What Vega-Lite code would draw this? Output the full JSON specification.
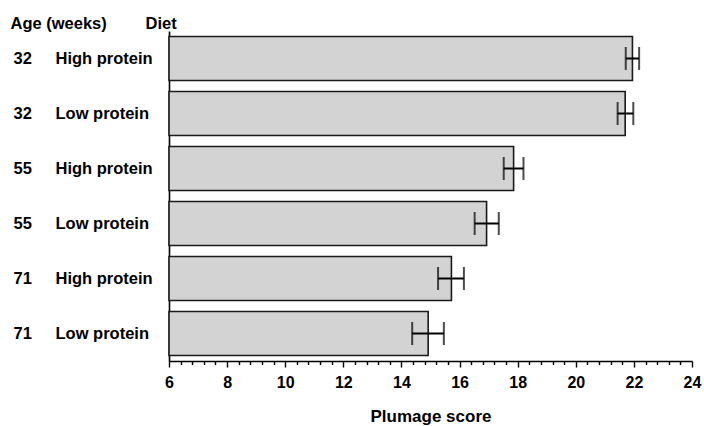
{
  "$schema": "https://vega.github.io/schema/vega-lite/v6.json",
  "width": 523,
  "height": 330,
  "autosize": "none",
  "padding": {"left": 169, "top": 31, "right": 12, "bottom": 65},
  "background": "white",
  "config": {
    "view": {"stroke": null},
    "font": "Liberation Sans",
    "axis": {
      "labelFont": "Liberation Sans",
      "labelFontWeight": "bold",
      "labelColor": "black",
      "titleFont": "Liberation Sans",
      "titleFontWeight": "bold",
      "titleColor": "black",
      "domainColor": "black",
      "tickColor": "black",
      "grid": false
    }
  },
  "data": {
    "values": [
      {"key": "32|High protein", "age": 32, "diet": "High protein", "score": 21.95, "lo": 21.72, "hi": 22.18},
      {"key": "32|Low protein", "age": 32, "diet": "Low protein", "score": 21.7, "lo": 21.44, "hi": 21.98},
      {"key": "55|High protein", "age": 55, "diet": "High protein", "score": 17.86, "lo": 17.52, "hi": 18.2},
      {"key": "55|Low protein", "age": 55, "diet": "Low protein", "score": 16.93, "lo": 16.52, "hi": 17.35},
      {"key": "71|High protein", "age": 71, "diet": "High protein", "score": 15.72, "lo": 15.26, "hi": 16.15},
      {"key": "71|Low protein", "age": 71, "diet": "Low protein", "score": 14.92, "lo": 14.37, "hi": 15.46}
    ]
  },
  "resolve": {"axis": {"y": "independent", "x": "independent"}},
  "layer": [
    {
      "mark": {"type": "bar", "fill": "#d3d3d3", "stroke": "#1a1a1a", "strokeWidth": 1.6},
      "encoding": {
        "y": {
          "field": "key",
          "type": "nominal",
          "sort": null,
          "scale": {"paddingInner": 0.2, "paddingOuter": 0.1},
          "axis": {
            "orient": "left",
            "title": "Diet",
            "titleAngle": 0,
            "titleAlign": "left",
            "titleBaseline": "alphabetic",
            "titleX": -24,
            "titleY": -3,
            "titleFontSize": 16.5,
            "ticks": false,
            "domain": true,
            "domainWidth": 1.6,
            "labelAlign": "left",
            "labelBaseline": "middle",
            "labelPadding": 114,
            "labelFontSize": 16.5,
            "labelExpr": "split(datum.value, '|')[1]"
          }
        },
        "x": {
          "field": "score",
          "type": "quantitative",
          "scale": {"domain": [6, 24], "zero": false, "nice": false},
          "axis": {
            "orient": "bottom",
            "title": "Plumage score",
            "titleFontSize": 17,
            "titlePadding": 18,
            "values": [6, 6.4, 6.8, 7.2, 7.6, 8, 8.4, 8.8, 9.2, 9.6, 10, 10.4, 10.8, 11.2, 11.6, 12, 12.4, 12.8, 13.2, 13.6, 14, 14.4, 14.8, 15.2, 15.6, 16, 16.4, 16.8, 17.2, 17.6, 18, 18.4, 18.8, 19.2, 19.6, 20, 20.4, 20.8, 21.2, 21.6, 22, 22.4, 22.8, 23.2, 23.6, 24],
            "tickSize": {"condition": {"test": "abs(datum.value - round(datum.value / 2) * 2) < 0.01", "value": 6}, "value": 3.5},
            "tickWidth": 1.4,
            "domainWidth": 1.6,
            "labelExpr": "abs(datum.value - round(datum.value / 2) * 2) < 0.01 ? format(datum.value, 'd') : ''",
            "labelOverlap": false,
            "labelFlush": false,
            "labelFontSize": 16,
            "labelPadding": 7
          }
        },
        "x2": {"datum": 6}
      }
    },
    {
      "mark": {"type": "rule", "color": "black", "strokeWidth": 2},
      "encoding": {
        "y": {
          "field": "key",
          "type": "nominal",
          "sort": null,
          "axis": {
            "orient": "left",
            "title": "Age (weeks)",
            "titleAngle": 0,
            "titleAlign": "left",
            "titleBaseline": "alphabetic",
            "titleX": -159,
            "titleY": -3,
            "titleFontSize": 16.5,
            "ticks": false,
            "domain": false,
            "labelAlign": "left",
            "labelBaseline": "middle",
            "labelPadding": 156,
            "labelFontSize": 16.5,
            "labelExpr": "split(datum.value, '|')[0]"
          }
        },
        "x": {"field": "lo", "type": "quantitative", "axis": null},
        "x2": {"field": "hi"}
      }
    },
    {
      "mark": {"type": "tick", "orient": "vertical", "color": "black", "size": 23, "thickness": 2},
      "encoding": {
        "y": {"field": "key", "type": "nominal", "sort": null, "axis": null},
        "x": {"field": "lo", "type": "quantitative", "axis": null}
      }
    },
    {
      "mark": {"type": "tick", "orient": "vertical", "color": "black", "size": 23, "thickness": 2},
      "encoding": {
        "y": {"field": "key", "type": "nominal", "sort": null, "axis": null},
        "x": {"field": "hi", "type": "quantitative", "axis": null}
      }
    }
  ]
}
